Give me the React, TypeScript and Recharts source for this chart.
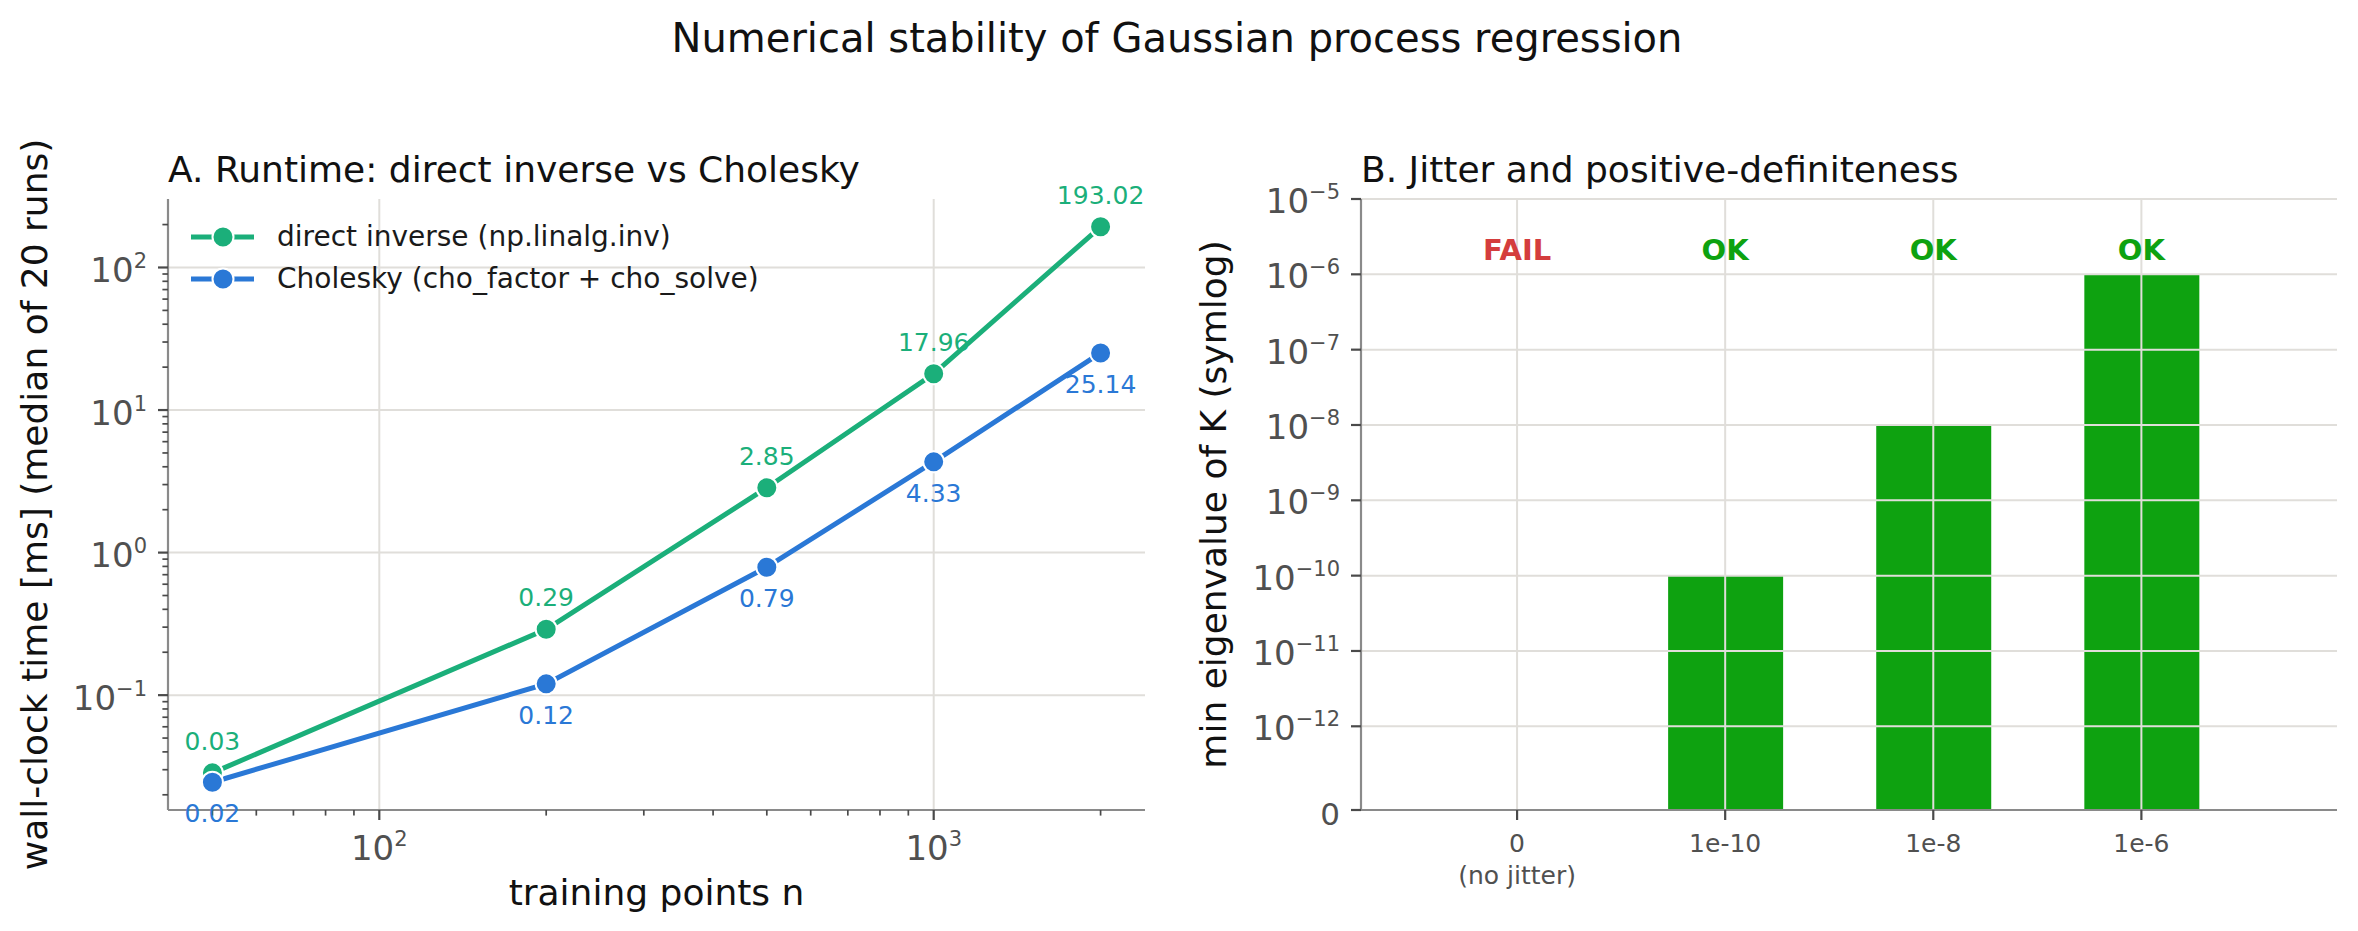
import React from "react";
import {
  LineChart, Line, XAxis, YAxis, CartesianGrid, Legend, LabelList,
  BarChart, Bar, ReferenceLine, ReferenceDot,
} from "recharts";

const FONT = "DejaVu Sans";
const GREEN = "#1baf7a";
const BLUE = "#2a78d6";
const BAR_GREEN = "#0ea210";
const FAIL_RED = "#d43d3d";
const GRID = "#e0deda";
const SPINE = "#8a8a8a";
const TICK = "#4a4a4a";
const TICK_TEXT = "#505050";
const INK = "#111111";

// Panel A: runtime of the two solvers against training-set size
const N_POINTS = [50, 200, 500, 1000, 2000];
const T_DIRECT = [0.0285, 0.29, 2.85, 17.96, 193.02];
const T_CHOLESKY = [0.0245, 0.12, 0.79, 4.33, 25.14];
const SERIES_NAMES = ["direct inverse (np.linalg.inv)", "Cholesky (cho_factor + cho_solve)"];

const X_MAJOR = [100, 1000];
const X_MINOR = [50, 60, 70, 80, 90, 200, 300, 400, 500, 600, 700, 800, 900, 2000];
const Y_MAJOR = [0.1, 1, 10, 100];
const Y_MINOR = [
  0.02, 0.03, 0.04, 0.05, 0.06, 0.07, 0.08, 0.09,
  0.2, 0.3, 0.4, 0.5, 0.6, 0.7, 0.8, 0.9,
  2, 3, 4, 5, 6, 7, 8, 9,
  20, 30, 40, 50, 60, 70, 80, 90, 200,
];

// Panel B: smallest eigenvalue of K for each jitter level
const JITTER_LABELS = [["0", "(no jitter)"], ["1e-10"], ["1e-8"], ["1e-6"]];
const MIN_EIG = [0, 1e-10, 1e-8, 1e-6];
const STATUS = ["FAIL", "OK", "OK", "OK"];
const EIG_TICKS = [0, 1e-12, 1e-11, 1e-10, 1e-9, 1e-8, 1e-7, 1e-6, 1e-5];
const STATUS_Y = 2.2e-6;

// log axes padded by 5% of the data span, like matplotlib autoscaling
const logPad = (vals: number[]): [number, number] => {
  const lo = Math.log10(Math.min(...vals));
  const hi = Math.log10(Math.max(...vals));
  const m = 0.05 * (hi - lo);
  return [Math.pow(10, lo - m), Math.pow(10, hi + m)];
};
const X_DOMAIN = logPad(N_POINTS);
const Y_DOMAIN = logPad([...T_DIRECT, ...T_CHOLESKY]);

// symmetric log transform (linthresh 1e-12, linscale 1)
const LINTHRESH = 1e-12;
const LINSCALE = 1 / (1 - 1 / 10);
const symlog = (v: number) => {
  const a = Math.abs(v);
  if (a <= LINTHRESH) return (v / LINTHRESH) * LINSCALE;
  return Math.sign(v) * (LINSCALE + Math.log10(a / LINTHRESH));
};
const symexp = (t: number) => {
  const a = Math.abs(t);
  if (a <= LINSCALE) return (t / LINSCALE) * LINTHRESH;
  return Math.sign(t) * LINTHRESH * Math.pow(10, a - LINSCALE);
};

const runtimeData = N_POINTS.map((n, i) => ({ n, direct: T_DIRECT[i], cholesky: T_CHOLESKY[i] }));
const eigData = MIN_EIG.map((v, i) => ({ pos: i, eig: symlog(v) }));

const sup = (e: number) => (e < 0 ? "\u2212" + Math.abs(e) : String(e));

const Pow = ({ x, y, exp, anchor }: { x: number; y: number; exp: number; anchor: "start" | "middle" | "end" }) => (
  <text x={x} y={y} textAnchor={anchor} fontFamily={FONT} fontSize={34} fill={TICK_TEXT}>
    10<tspan dy={-14} fontSize={21}>{sup(exp)}</tspan>
  </text>
);

const LogTickX = (props: any) => {
  const { x, y, payload } = props;
  const v = payload.value;
  const major = X_MAJOR.includes(v);
  return (
    <g>
      <line x1={x} x2={x} y1={y} y2={y + (major ? 10 : 5.6)} stroke={TICK} strokeWidth={major ? 2.2 : 1.7} />
      {major && <Pow x={x} y={y + 50} exp={Math.round(Math.log10(v))} anchor="middle" />}
    </g>
  );
};

const LogTickY = (props: any) => {
  const { x, y, payload } = props;
  const v = payload.value;
  const major = Y_MAJOR.includes(v);
  return (
    <g>
      <line x1={x} x2={x - (major ? 10 : 5.6)} y1={y} y2={y} stroke={TICK} strokeWidth={major ? 2.2 : 1.7} />
      {major && <Pow x={x - 21} y={y + 14.5} exp={Math.round(Math.log10(v))} anchor="end" />}
    </g>
  );
};

const EigTickY = (props: any) => {
  const { x, y, payload } = props;
  const v = symexp(payload.value);
  return (
    <g>
      <line x1={x} x2={x - 10} y1={y} y2={y} stroke={TICK} strokeWidth={2.2} />
      {v === 0 ? (
        <text x={x - 21} y={y + 15} textAnchor="end" fontFamily={FONT} fontSize={31} fill={TICK_TEXT}>0</text>
      ) : (
        <Pow x={x - 21} y={y + 14} exp={Math.round(Math.log10(v))} anchor="end" />
      )}
    </g>
  );
};

const JitterTick = (props: any) => {
  const { x, y, payload } = props;
  const lines = JITTER_LABELS[payload.value] || [];
  return (
    <g>
      <line x1={x} x2={x} y1={y} y2={y + 10} stroke={TICK} strokeWidth={2.2} />
      {lines.map((t, k) => (
        <text key={k} x={x} y={y + 42 + k * 32} textAnchor="middle" fontFamily={FONT} fontSize={25} fill={TICK_TEXT}>{t}</text>
      ))}
    </g>
  );
};

// legend rows keep the series order (Recharts sorts by name otherwise)
const LegendBox = (props: any) => {
  const items = [...(props.payload || [])].sort(
    (a: any, b: any) => SERIES_NAMES.indexOf(a.value) - SERIES_NAMES.indexOf(b.value)
  );
  return (
    <div style={{ fontFamily: FONT }}>
      {items.map((p: any) => (
        <div key={p.value} style={{ display: "flex", alignItems: "center", height: 42 }}>
          <svg width={86} height={42}>
            <line x1={0} x2={63} y1={21} y2={21} stroke={p.color} strokeWidth={5} />
            <circle cx={32} cy={21} r={10.5} fill={p.color} stroke="#fff" strokeWidth={2} />
          </svg>
          <span style={{ fontSize: 28, color: "#1a1a1a", lineHeight: "42px", whiteSpace: "nowrap" }}>{p.value}</span>
        </div>
      ))}
    </div>
  );
};

const valueLabel = (color: string, dy: number) => (props: any) => {
  const { x, y, value } = props;
  return (
    <text x={x} y={y + dy} textAnchor="middle" fontFamily={FONT} fontSize={25} fill={color}>
      {Number(value).toFixed(2)}
    </text>
  );
};

const statusLabel = (text: string) => (props: any) => {
  const vb = props.viewBox || {};
  const cx = vb.x + (vb.width || 0) / 2;
  const cy = vb.y + (vb.height || 0) / 2;
  return (
    <text x={cx} y={cy + 11} textAnchor="middle" fontFamily={FONT} fontSize={29} fontWeight="bold"
      fill={text === "OK" ? BAR_GREEN : FAIL_RED}>
      {text}
    </text>
  );
};

const axisLine = { stroke: SPINE, strokeWidth: 2.2 };

export default function App() {
  return (
    <div style={{ position: "absolute", left: 0, top: 0, width: 2358, height: 931, background: "#fff", overflow: "hidden" }}>
      <div style={{ position: "absolute", left: 0, top: 0 }}>
        <LineChart width={1180} height={931} data={runtimeData} margin={{ top: 199, right: 35, bottom: 0, left: 0 }}>
          <CartesianGrid stroke={GRID} strokeWidth={2} horizontalValues={Y_MAJOR} verticalValues={X_MAJOR} />
          <XAxis dataKey="n" type="number" scale="log" domain={X_DOMAIN} allowDataOverflow
            ticks={[...X_MINOR, ...X_MAJOR].sort((a, b) => a - b)} interval={0}
            tickSize={0} tickMargin={0} tickLine={false} tick={<LogTickX />} axisLine={axisLine} height={121} />
          <YAxis type="number" scale="log" domain={Y_DOMAIN} allowDataOverflow
            ticks={[...Y_MINOR, ...Y_MAJOR].sort((a, b) => a - b)} interval={0}
            tickSize={0} tickMargin={0} tickLine={false} tick={<LogTickY />} axisLine={axisLine} width={168} />
          <Legend content={<LegendBox />} verticalAlign="middle" align="center" layout="vertical"
            wrapperStyle={{ left: 191, top: 216, width: "auto", height: "auto" }} />
          <Line type="linear" dataKey="direct" name={SERIES_NAMES[0]} stroke={GREEN} strokeWidth={5}
            dot={{ r: 10.5, fill: GREEN, stroke: "#fff", strokeWidth: 2 }} activeDot={false} isAnimationActive={false}>
            <LabelList dataKey="direct" content={valueLabel(GREEN, -23)} />
          </Line>
          <Line type="linear" dataKey="cholesky" name={SERIES_NAMES[1]} stroke={BLUE} strokeWidth={5}
            dot={{ r: 10.5, fill: BLUE, stroke: "#fff", strokeWidth: 2 }} activeDot={false} isAnimationActive={false}>
            <LabelList dataKey="cholesky" content={valueLabel(BLUE, 40)} />
          </Line>
        </LineChart>
      </div>

      <div style={{ position: "absolute", left: 1180, top: 0 }}>
        <BarChart width={1178} height={931} data={eigData} margin={{ top: 199, right: 21, bottom: 0, left: 0 }}>
          <XAxis dataKey="pos" type="number" domain={[-0.75, 3.94]} allowDataOverflow ticks={[0, 1, 2, 3]} interval={0}
            tickSize={0} tickMargin={0} tickLine={false} tick={<JitterTick />} axisLine={axisLine} height={121} />
          <YAxis type="number" domain={[0, symlog(1e-5)]} allowDataOverflow ticks={EIG_TICKS.map(symlog)} interval={0}
            tickSize={0} tickMargin={0} tickLine={false} tick={<EigTickY />} axisLine={axisLine} width={181} />
          <Bar dataKey="eig" fill={BAR_GREEN} barSize={115} isAnimationActive={false} />
          {EIG_TICKS.slice(1).map((v) => (
            <ReferenceLine key={"h" + v} y={symlog(v)} stroke={GRID} strokeWidth={2} />
          ))}
          {eigData.map((d) => (
            <ReferenceLine key={"v" + d.pos} x={d.pos} stroke={GRID} strokeWidth={2} />
          ))}
          {STATUS.map((s, i) => (
            <ReferenceDot key={"s" + i} x={i} y={symlog(STATUS_Y)} r={1} fill="none" stroke="none" label={statusLabel(s)} />
          ))}
        </BarChart>
      </div>

      <svg width={2358} height={931} style={{ position: "absolute", left: 0, top: 0, pointerEvents: "none" }}>
        <g fontFamily={FONT} fill={INK}>
          <text x={1177} y={52} textAnchor="middle" fontSize={40}>Numerical stability of Gaussian process regression</text>
          <text x={168} y={182} fontSize={36}>A. Runtime: direct inverse vs Cholesky</text>
          <text x={1361} y={182} fontSize={36}>B. Jitter and positive-definiteness</text>
          <text x={656.5} y={905} textAnchor="middle" fontSize={36}>training points n</text>
          <text transform="translate(47 504.5) rotate(-90)" textAnchor="middle" fontSize={36}>wall-clock time [ms] (median of 20 runs)</text>
          <text transform="translate(1226 504.5) rotate(-90)" textAnchor="middle" fontSize={36}>min eigenvalue of K (symlog)</text>
        </g>
      </svg>
    </div>
  );
}
